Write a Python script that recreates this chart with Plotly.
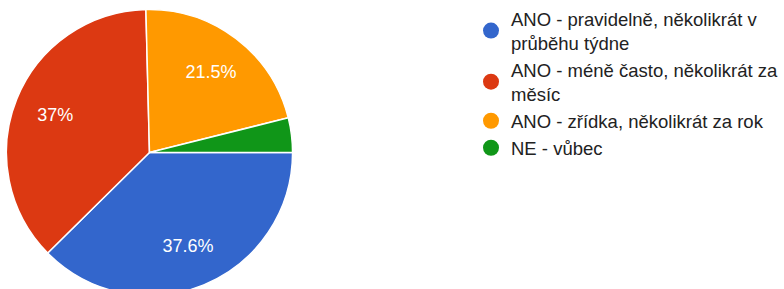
import plotly.graph_objects as go

labels = ["ANO - pravidelně, několikrát v<br>průběhu týdne",
          "ANO - méně často, několikrát za<br>měsíc",
          "ANO - zřídka, několikrát za rok",
          "NE - vůbec"]
values = [37.6, 37.0, 21.5, 3.9]
colors = ["#3366cc", "#dc3912", "#ff9900", "#109618"]
show_text = ["%{percent}", "%{percent}", "%{percent}", ""]

W, H = 784, 300
pie_top, pie_bottom = 7, 298
R = (pie_bottom - pie_top) / 2
cx = 152
dom = dict(x=[(cx - R) / W, (cx + R) / W],
           y=[(H - pie_bottom) / H, (H - pie_top) / H])

fig = go.Figure()
# coloured pie
fig.add_trace(go.Pie(
    values=values, labels=labels, sort=False, direction="clockwise", rotation=90,
    marker=dict(colors=colors, line=dict(color="white", width=1.5)),
    textinfo="none", showlegend=False, hoverinfo="skip", domain=dom,
))
# transparent overlay carrying the percentage labels
fig.add_trace(go.Pie(
    values=values, labels=labels, sort=False, direction="clockwise", rotation=90,
    hole=0.42,
    marker=dict(colors=["rgba(0,0,0,0)"] * len(values), line=dict(width=0)),
    texttemplate=show_text, textposition="inside", insidetextorientation="horizontal",
    textfont=dict(color="white", size=18, family="Liberation Sans"),
    showlegend=False, hoverinfo="skip", domain=dom,
))
for lab, col in zip(labels, colors):
    fig.add_trace(go.Scatter(x=[None], y=[None], mode="markers", name=lab,
                             marker=dict(symbol="circle", size=16, color=col)))

fig.update_layout(
    width=W, height=H, margin=dict(l=0, r=0, t=0, b=0),
    paper_bgcolor="white", plot_bgcolor="white",
    xaxis=dict(visible=False), yaxis=dict(visible=False),
    legend=dict(x=479 / W, y=1, xanchor="left", yanchor="top",
                font=dict(size=18.5, color="#222222", family="Liberation Sans"),
                bgcolor="rgba(0,0,0,0)"),
)
fig.write_html("out.html", config={"displayModeBar": False},
               post_script="document.body.style.margin='0';")
